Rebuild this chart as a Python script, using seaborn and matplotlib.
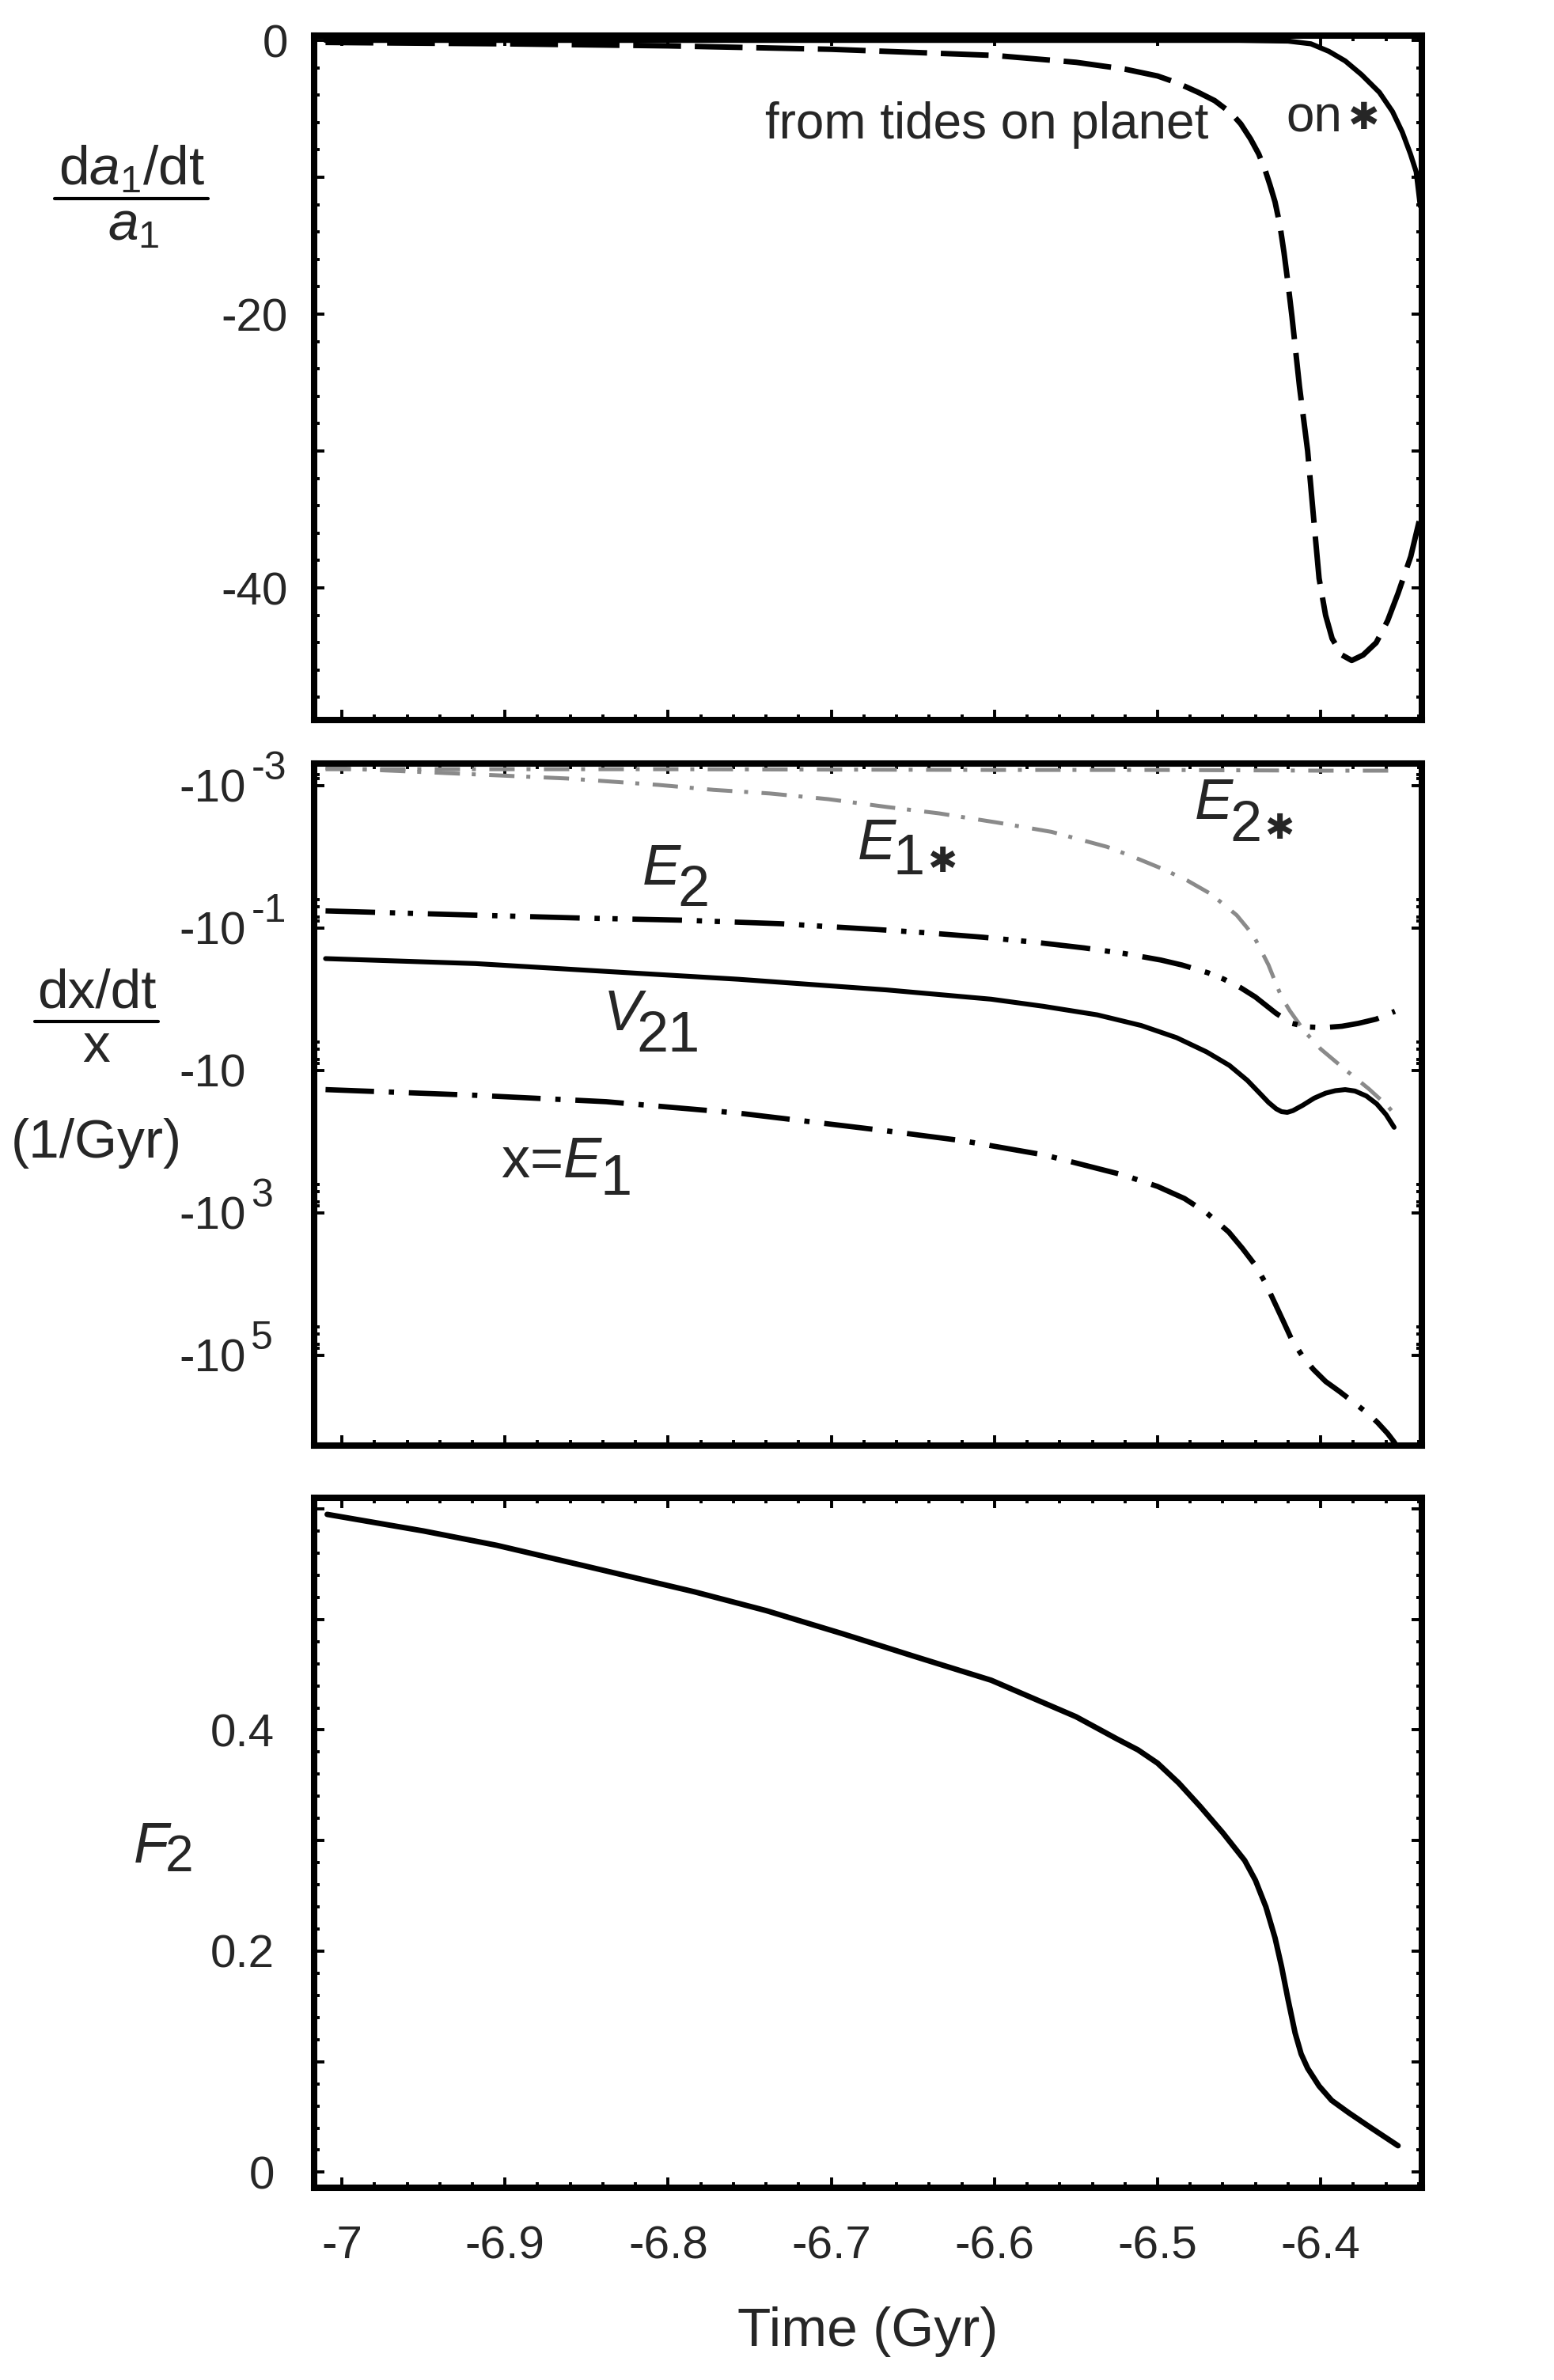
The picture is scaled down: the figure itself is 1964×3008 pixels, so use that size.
import numpy as np
import matplotlib
matplotlib.use("Agg")
import matplotlib.pyplot as plt
import seaborn as sns
from matplotlib.ticker import MultipleLocator, FixedLocator, NullFormatter, FuncFormatter
from matplotlib.lines import Line2D

# ---- panel 1: (da1/dt)/a1 ----
t_planet = [-7.010, -6.9, -6.8, -6.7, -6.6, -6.55, -6.52, -6.5, -6.488, -6.475, -6.465, -6.455,
            -6.449, -6.443, -6.438, -6.434, -6.431, -6.428, -6.425, -6.4225, -6.420, -6.4176,
            -6.413, -6.408, -6.4045, -6.401, -6.397, -6.393, -6.387, -6.381, -6.374, -6.366,
            -6.359, -6.3526, -6.3448, -6.339]
v_planet = [-0.15, -0.25, -0.4, -0.65, -1.1, -1.6, -2.1, -2.6, -3.1, -3.8, -4.4, -5.3,
            -6.1, -7.2, -8.3, -9.5, -10.6, -11.8, -13.5, -15.5, -17.8, -20.2,
            -25.3, -30.0, -34.7, -39.3, -42.0, -43.7, -44.9, -45.3, -44.9, -44.0,
            -42.4, -40.4, -37.7, -34.8]
t_star = [-7.010, -6.6, -6.45, -6.42, -6.406, -6.395, -6.385, -6.375, -6.364, -6.356,
          -6.350, -6.345, -6.3415, -6.339]
v_star = [0.0, 0.0, 0.0, -0.05, -0.25, -0.8, -1.5, -2.5, -3.8, -5.2, -6.7, -8.3, -9.6, -12.1]

# ---- panel 2: log10 |(dx/dt)/x| ----
t_E2 = [-7.010, -6.918, -6.854, -6.792, -6.731, -6.673, -6.64, -6.607, -6.575, -6.545, -6.52,
        -6.498, -6.485, -6.469, -6.4593, -6.449, -6.440, -6.4273, -6.4176, -6.408, -6.398,
        -6.387, -6.377, -6.366, -6.3545]
e_E2 = [-1.24, -1.18, -1.14, -1.11, -1.06, -0.98, -0.93, -0.87, -0.80, -0.72, -0.64,
        -0.55, -0.48, -0.37, -0.28, -0.16, -0.03, 0.20, 0.34, 0.39, 0.40,
        0.38, 0.34, 0.28, 0.17]
t_V21 = [-7.010, -6.918, -6.838, -6.757, -6.666, -6.602, -6.57, -6.537, -6.51, -6.4884,
         -6.47, -6.456, -6.445, -6.437, -6.432, -6.4273, -6.424, -6.4205, -6.417, -6.411,
         -6.404, -6.397, -6.391, -6.385, -6.379, -6.372, -6.3657, -6.36, -6.355]
e_V21 = [-0.57, -0.50, -0.39, -0.28, -0.13, 0.0, 0.10, 0.22, 0.37, 0.54,
         0.74, 0.93, 1.14, 1.33, 1.45, 1.54, 1.58, 1.59, 1.565, 1.49,
         1.39, 1.32, 1.285, 1.27, 1.29, 1.36, 1.47, 1.62, 1.80]
t_E1 = [-7.010, -6.918, -6.838, -6.757, -6.666, -6.619, -6.569, -6.521, -6.5, -6.4835,
        -6.47, -6.4564, -6.448, -6.440, -6.434, -6.4287, -6.423, -6.4176, -6.411, -6.4045,
        -6.397, -6.3885, -6.38, -6.3705, -6.365, -6.359, -6.355, -6.350]
e_E1 = [1.27, 1.35, 1.44, 1.60, 1.85, 1.99, 2.19, 2.47, 2.63, 2.80,
        3.00, 3.27, 3.50, 3.74, 3.98, 4.24, 4.52, 4.79, 5.02, 5.20,
        5.37, 5.51, 5.66, 5.83, 5.95, 6.10, 6.22, 6.40]
t_E1s = [-7.010, -6.93, -6.862, -6.806, -6.772, -6.738, -6.702, -6.666, -6.634, -6.598,
         -6.565, -6.531, -6.515, -6.498, -6.482, -6.4675, -6.46, -6.4515, -6.445, -6.440,
         -6.436, -6.432, -6.428, -6.424, -6.419, -6.41, -6.400, -6.3855, -6.3705, -6.359,
         -6.3535]
e_E1s = [-3.25, -3.17, -3.10, -3.01, -2.94, -2.89, -2.81, -2.70, -2.61, -2.48,
         -2.35, -2.14, -2.00, -1.84, -1.67, -1.48, -1.34, -1.18, -1.00, -0.84,
         -0.66, -0.48, -0.25, -0.03, 0.16, 0.45, 0.70, 0.98, 1.26, 1.50,
         1.65]
t_E2s = [-7.010, -6.8, -6.6, -6.5, -6.4, -6.3535]
e_E2s = [-3.23, -3.23, -3.22, -3.22, -3.21, -3.21]

# ---- panel 3: F2 ----
t_F2 = [-7.009, -6.95, -6.905, -6.85, -6.784, -6.74, -6.693, -6.65, -6.602, -6.55, -6.525,
        -6.512, -6.5, -6.487, -6.474, -6.46, -6.4466, -6.44, -6.4336, -6.428, -6.424, -6.42,
        -6.4157, -6.412, -6.408, -6.401, -6.3933, -6.383, -6.369, -6.3526]
v_F2 = [0.595, 0.580, 0.567, 0.548, 0.525, 0.508, 0.487, 0.467, 0.445, 0.412, 0.392,
        0.382, 0.370, 0.352, 0.331, 0.307, 0.282, 0.264, 0.240, 0.212, 0.186, 0.156,
        0.126, 0.107, 0.094, 0.078, 0.065, 0.054, 0.040, 0.024]

xticks = [-7, -6.9, -6.8, -6.7, -6.6, -6.5, -6.4]
xticklabels = ["-7", "-6.9", "-6.8", "-6.7", "-6.6", "-6.5", "-6.4"]
log_ticks = [1e-3, 1e-1, 1e1, 1e3, 1e5]
log_tick_exps = ["-3", "-1", "", "3", "5"]

sns.set_style("white")
plt.rcParams["font.family"] = ["Liberation Sans", "DejaVu Sans"]
plt.rcParams["mathtext.fontset"] = "custom"
plt.rcParams["mathtext.rm"] = "Liberation Sans"
plt.rcParams["mathtext.it"] = "Liberation Sans:italic"
plt.rcParams["axes.unicode_minus"] = False

W, H = 1964, 3008
PT = 72 / 200  # points per pixel
fig = plt.figure(figsize=(W / 200, H / 200), dpi=200)


def px_axes(left, top, right, bottom):
    return fig.add_axes([left / W, 1 - bottom / H, (right - left) / W, (bottom - top) / H])


ax1 = px_axes(397, 45, 1797, 910)
ax2 = px_axes(397, 965, 1797, 1827)
ax3 = px_axes(397, 1893, 1797, 2765)
XLIM = (-7.017, -6.338)

for ax in (ax1, ax2, ax3):
    for sp in ax.spines.values():
        sp.set_linewidth(2.9)
        sp.set_color("black")
    ax.tick_params(which="both", direction="in", top=True, right=True, bottom=True, left=True,
                   width=1.4, color="black", labelsize=21)
    ax.tick_params(which="major", length=4.8)
    ax.tick_params(which="minor", length=2.6)
    ax.set_xlim(*XLIM)
    ax.xaxis.set_major_locator(FixedLocator(xticks))
    ax.xaxis.set_minor_locator(MultipleLocator(0.02))

# panel 1
sns.lineplot(x=t_planet, y=v_planet, ax=ax1, color="black", lw=2.5,
             linestyle=(0, (8.7, 2.5)), estimator=None, sort=False)
sns.lineplot(x=t_star, y=v_star, ax=ax1, color="black", lw=2.3, estimator=None, sort=False)
ax1.set_ylim(-49.65, 0.35)
ax1.yaxis.set_major_locator(MultipleLocator(10))
ax1.yaxis.set_minor_locator(MultipleLocator(2))
ax1.yaxis.set_major_formatter(FuncFormatter(lambda v, p: f"{v:.0f}" if round(v) % 20 == 0 else ""))
ax1.tick_params(axis="y", pad=12)
ax1.set_xticklabels([])

# panel 2 (log of magnitude, increasing downward)
p2 = [
    (t_E1s, e_E1s, "#8a8a8a", 1.8, (0, (6.4, 3, 1, 3.4))),
    (t_E2s, e_E2s, "#8a8a8a", 1.8, (0, (6.4, 3, 1, 3.4))),
    (t_E2, e_E2, "black", 2.4, (0, (9.4, 2.8, 1, 2.4, 1, 2.8))),
    (t_V21, e_V21, "black", 2.2, "-"),
    (t_E1, e_E1, "black", 2.4, (0, (9.2, 2.8, 1, 2.8))),
]
for tt, ee, col, lw, ls in p2:
    sns.lineplot(x=tt, y=10 ** np.array(ee), ax=ax2, color=col, lw=lw, linestyle=ls,
                 estimator=None, sort=False)
ax2.set_yscale("log")
ax2.set_ylim(10 ** 6.27, 10 ** -3.31)
ax2.yaxis.set_major_locator(FixedLocator(log_ticks))
minor = [k * 10.0 ** (n - 1) for n in (-3, -1, 1, 3, 5) for k in (4, 5, 7, 8)]
ax2.yaxis.set_minor_locator(FixedLocator(minor))
ax2.yaxis.set_minor_formatter(NullFormatter())
ax2.set_yticklabels([])
ax2.set_xticklabels([])
# "-10" with a large exponent, left-aligned like the original
for val, ex in zip(log_ticks, log_tick_exps):
    base = ax2.annotate("-10", xy=(0, val), xycoords=ax2.get_yaxis_transform(),
                        xytext=((226 - 397) * PT, -2), textcoords="offset points",
                        fontsize=21, ha="left", va="center")
    if ex:
        ax2.annotate(ex, xy=(1, 0), xycoords=base, xytext=(2.5, 0.21 * 21 + 10),
                     textcoords="offset points", fontsize=18, ha="left", va="baseline")

# panel 3
sns.lineplot(x=t_F2, y=v_F2, ax=ax3, color="black", lw=2.5, estimator=None, sort=False)
ax3.set_ylim(-0.014, 0.61)
ax3.yaxis.set_major_locator(MultipleLocator(0.1))
ax3.yaxis.set_minor_locator(MultipleLocator(0.02))
ax3.yaxis.set_major_formatter(FuncFormatter(
    lambda v, p: ("0" if abs(v) < 1e-9 else f"{v:.1f}") if round(v * 10) in (0, 2, 4) else ""))
ax3.set_xticklabels(xticklabels)
ax3.tick_params(axis="y", pad=18)
ax3.tick_params(axis="x", pad=17)

for ax in (ax1, ax2, ax3):
    ax.set_xlabel("")
    ax.set_ylabel("")


def sub_label(ax, x, y, main, sub, size=26, sub_size=None, coords="data", drop=10.0,
              gap=-1.5, italic=True, star=False, star_dx=1.5, star_dy=1.0):
    sub_size = sub_size or size
    t = ax.annotate(main, xy=(x, y), xycoords=coords, fontsize=size,
                    style="italic" if italic else "normal", ha="left", va="baseline")
    s = ax.annotate(sub, xy=(1, 0), xycoords=t, xytext=(gap, 0.21 * size - drop),
                    textcoords="offset points", fontsize=sub_size, ha="left", va="baseline")
    if star:
        ax.annotate("\u2731", xy=(1, 0), xycoords=s, xytext=(star_dx, 0.21 * sub_size + star_dy),
                    textcoords="offset points", fontsize=16, family=["DejaVu Sans"],
                    ha="left", va="baseline")
    return t


# annotations in panel 1
ax1.text(-6.469, -7.16, "from tides on planet", fontsize=23, ha="right", va="baseline")
on = ax1.text(-6.4214, -6.70, "on", fontsize=23, ha="left", va="baseline")
ax1.annotate("\u2731", xy=(1, 0), xycoords=on, xytext=(3, 6.0), textcoords="offset points",
             fontsize=17, family=["DejaVu Sans"], ha="left", va="baseline")

# annotations in panel 2
sub_label(ax2, -6.8157, 10 ** -1.611, "E", "2")
sub_label(ax2, -6.8395, 10 ** 0.433, "V", "21", gap=-2.5)
sub_label(ax2, -6.9025, 10 ** 2.50, "x=$E$", "1", italic=False, drop=8)
sub_label(ax2, -6.6838, 10 ** -1.967, "E", "1", drop=7, star=True)
sub_label(ax2, -6.4772, 10 ** -2.533, "E", "2", star=True)

# y-axis labels
fig.text(0.0845, 0.9225, "d$a_1$/dt", fontsize=25, ha="center", va="baseline")
fig.add_artist(Line2D([69 / W, 263 / W], [1 - 251 / H, 1 - 251 / H], transform=fig.transFigure,
                      color="black", lw=1.5))
fig.text(0.086, 1 - 303 / H, "$a_1$", fontsize=25, ha="center", va="baseline")

fig.text(122 / W, 1 - 1273 / H, "dx/dt", fontsize=25, ha="center", va="baseline")
fig.add_artist(Line2D([44 / W, 200 / W], [1 - 1291 / H, 1 - 1291 / H], transform=fig.transFigure,
                      color="black", lw=1.5))
fig.text(122 / W, 1 - 1342 / H, "x", fontsize=25, ha="center", va="baseline")
fig.text(122 / W, 1 - 1445 / H, "(1/Gyr)", fontsize=25, ha="center", va="center")

sub_label(ax3, 169 / W, 1 - 2354 / H, "F", "2", size=26, sub_size=23, coords="figure fraction",
          drop=4)

fig.text((397 + 1797) / 2 / W, 1 - 2965 / H, "Time (Gyr)", fontsize=25, ha="center", va="baseline")

fig.savefig("out.png", dpi=200)
